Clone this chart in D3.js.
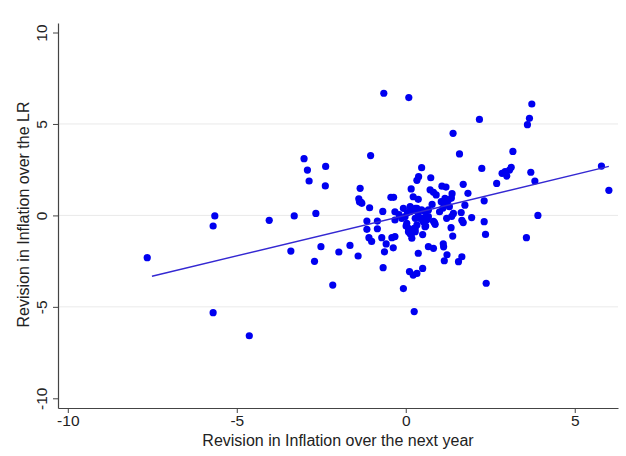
<!DOCTYPE html>
<html>
<head>
<meta charset="utf-8">
<script src="https://cdn.jsdelivr.net/npm/d3@7"></script>
<style>
  html, body { margin: 0; padding: 0; background: #fff; }
  svg { display: block; }
  text { font-family: "Liberation Sans", Arial, sans-serif; fill: #222; }
</style>
</head>
<body>
<div id="chart"></div>
<script>
// Revision in next-year inflation (x) vs revision in long-run inflation (y)
const revNextYear = [
  -7.65, -5.65, -5.70, -5.70, -4.63, -4.04, -3.30, -3.40, -3.01, -2.91,
  -2.86, -2.37, -2.38, -2.66, -2.51, -2.70, -2.16, -1.98, -1.65, -1.41,
  -1.04, -1.35, -1.39, -1.32, -1.07, -1.15, -1.15, -1.09, -1.01, -0.84,
  -0.84, -0.71, -0.58, -0.63, -0.67, -0.68, -0.65, 0.09, -0.44, -0.36,
  -0.41, -0.32, -0.37, -0.32, -0.32, -0.07, -0.12, -0.02, 0.03, 0.08,
  0.18, 0.18, -0.07, 0.11, 0.22, 0.33, 0.50, 0.25, 0.37, 0.16,
  0.22, 0.37, 0.33, 0.38, 0.74, 0.47, 0.72, 0.82, 0.90, 1.07,
  1.19, 1.37, 1.70, 1.84, 1.16, 1.20, 1.26, 1.29, 0.78, 1.75,
  0.13, 0.22, 0.33, 0.47, 0.57, 0.67, 0.28, 0.52, 0.67, 1.21,
  1.36, 1.64, 1.66, 1.70, 1.95, 0.82, 0.52, 0.62, 0.87, 0.33,
  0.22, 0.28, 0.13, 0.57, 1.34, 1.39, 0.50, 0.67, 0.82, 1.11,
  1.12, 1.22, 1.14, 1.66, 1.56, 2.32, 2.36, 2.38, 1.40, 1.59,
  2.18, 3.73, 3.66, 3.60, 3.17, 2.25, 2.85, 2.94, 2.99, 3.07,
  3.12, 3.70, 3.82, 2.69, 5.79, 6.01, 3.91, 2.32, 3.57, -1.37,
  -1.30, 0.01, 0.08, 0.25, 0.28, 0.59, 0.85, 1.41, 0.13, 0.28,
  0.37, 0.42, 1.05, 1.10, 1.35, 1.00, -0.20, 0.05
];
const revLongRun = [
  -2.31, -0.03, -0.58, -5.32, -6.58, -0.27, -0.03, -1.95, 3.10, 2.48,
  1.88, 2.68, 1.61, 0.11, -1.71, -2.51, -3.81, -2.00, -1.64, -2.22,
  3.27, 1.48, 0.91, 0.72, 0.42, -0.31, -0.76, -1.22, -1.42, -0.31,
  -0.73, -1.22, -1.56, -1.99, -2.86, 0.22, 6.68, 6.44, 0.99, 0.99,
  -1.22, -1.16, -1.77, 0.20, -0.25, 0.39, -0.16, -0.07, -0.43, -0.71,
  -0.98, -1.25, -4.00, -3.07, -3.26, -3.17, -2.90, -5.26, -2.07, 1.45,
  1.02, 0.88, 1.92, 2.12, 2.06, 2.61, 1.40, 1.26, 1.12, 1.60,
  1.55, 1.19, 1.70, 1.21, 0.93, 0.66, 0.84, 0.48, 0.60, 0.56,
  0.48, 0.30, 0.39, 0.30, 0.20, 0.30, -0.16, -0.16, -0.07, -0.16,
  -0.05, 0.16, -0.27, -0.39, -0.12, -0.32, -0.34, -0.25, -0.49, -0.52,
  -0.80, -0.71, -1.00, -0.62, -0.67, -1.13, -1.05, -1.71, -1.80, -1.55,
  -1.72, -2.15, -2.48, -2.26, -2.53, -0.34, -1.04, -3.71, 4.49, 3.36,
  5.25, 6.09, 5.31, 4.96, 3.50, 2.57, 2.30, 2.39, 2.15, 2.48,
  2.63, 2.36, 1.88, 1.75, 2.70, 1.37, 0.00, 0.80, -1.22, 0.75,
  0.66, -0.58, -0.89, -0.71, -0.89, -0.58, -0.40, 0.11, 0.20, 0.39,
  0.11, -0.16, 0.75, 0.40, 0.95, 0.20, 0.05, 0.15
];

// Fitted line: y = fitIntercept + fitSlope * x, drawn over fitRange
const fitIntercept = 0.01;
const fitSlope = 0.444;
const fitRange = [-7.51, 6.01];

// Tick labels
const xTicks = [-10, -5, 0, 5];
const yTicks = [-10, -5, 0, 5, 10];
const yGrid = [-5, 0, 5];

const W = 626, H = 456;
const plotLeft = 58, plotRight = 618, plotTop = 23, plotBottom = 408;
const FONT = "'Liberation Sans', Arial, sans-serif";

const svg = d3.select("#chart").append("svg")
  .attr("width", W).attr("height", H);

const x = d3.scaleLinear().domain([-10.29, 6.28]).range([plotLeft, plotRight]);
const y = d3.scaleLinear().domain([-10.53, 10.52]).range([plotBottom, plotTop]);

// Horizontal grid lines
svg.append("g").selectAll("line").data(yGrid).join("line")
  .attr("x1", plotLeft).attr("x2", plotRight)
  .attr("y1", d => y(d)).attr("y2", d => y(d))
  .attr("stroke", "#eaeaea").attr("stroke-width", 1);

// Points
const pts = revNextYear.map((v, i) => ({ x: v, y: revLongRun[i] }));
svg.append("g").selectAll("circle").data(pts).join("circle")
  .attr("cx", d => x(d.x)).attr("cy", d => y(d.y))
  .attr("r", 3.6).attr("fill", "#0000f0");

// Linear fit
svg.append("line")
  .attr("x1", x(fitRange[0])).attr("y1", y(fitIntercept + fitSlope * fitRange[0]))
  .attr("x2", x(fitRange[1])).attr("y2", y(fitIntercept + fitSlope * fitRange[1]))
  .attr("stroke", "#3428d2").attr("stroke-width", 1.4);

const fmt = d => d < 0 ? "-" + Math.abs(d) : String(d);

// X axis
const gx = svg.append("g").attr("transform", `translate(0,${plotBottom})`)
  .call(d3.axisBottom(x).tickValues(xTicks).tickSize(5).tickSizeOuter(0).tickFormat(fmt));
gx.select(".domain").attr("stroke", "#444").attr("stroke-width", 1.2);
gx.selectAll(".tick line").attr("stroke", "#444");
gx.selectAll(".tick text").attr("font-size", 15.5).attr("y", 7).attr("dy", "0.71em")
  .style("font-family", FONT).attr("fill", "#222");

// Y axis
const gy = svg.append("g").attr("transform", `translate(${plotLeft},0)`)
  .call(d3.axisLeft(y).tickValues(yTicks).tickSize(5).tickSizeOuter(0));
gy.select(".domain").attr("stroke", "#444").attr("stroke-width", 1.2);
gy.selectAll(".tick line").attr("stroke", "#444");
gy.selectAll(".tick text").remove();
gy.selectAll(".tick").append("text")
  .attr("transform", "translate(-11,0) rotate(-90)")
  .attr("text-anchor", "middle")
  .attr("font-size", 15.5).attr("fill", "#222")
  .style("font-family", FONT)
  .text(fmt);

// Axis titles
svg.append("text")
  .attr("x", (plotLeft + plotRight) / 2).attr("y", 445.5)
  .attr("text-anchor", "middle").attr("font-size", 16)
  .text("Revision in Inflation over the next year");

svg.append("text")
  .attr("transform", `translate(29,${(plotTop + plotBottom) / 2 - 1}) rotate(-90)`)
  .attr("text-anchor", "middle").attr("font-size", 16)
  .text("Revision in Inflation over the LR");
</script>
</body>
</html>
